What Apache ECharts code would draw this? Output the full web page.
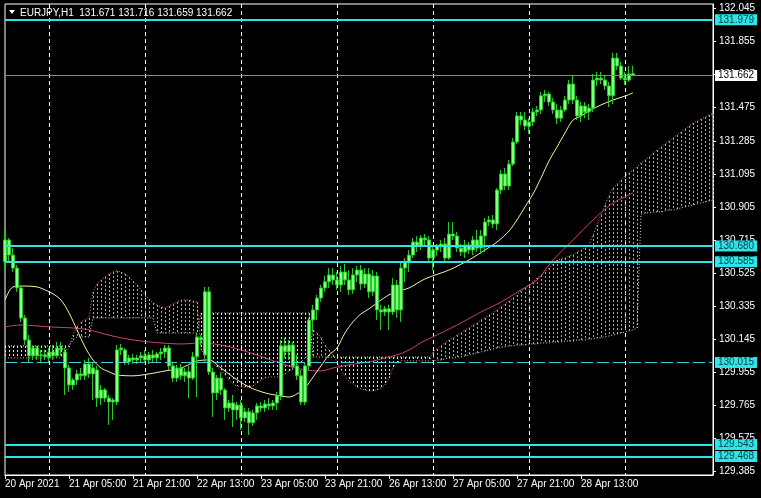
<!DOCTYPE html>
<html><head><meta charset="utf-8">
<script src="https://cdn.jsdelivr.net/npm/echarts@6/dist/echarts.min.js"></script>
<style>html,body{margin:0;padding:0;background:#000;}#c{width:761px;height:498px;}</style>
</head><body><div id="c"></div>
<script>
const symbolTitle = 'EURJPY,H1  131.671 131.716 131.659 131.662';
const tickLabels = ['20 Apr 2021','21 Apr 05:00','21 Apr 21:00','22 Apr 13:00','23 Apr 05:00','23 Apr 21:00','26 Apr 13:00','27 Apr 05:00','27 Apr 21:00','28 Apr 13:00'];
const tickIdx = [0,16,32,48,64,80,96,112,128,144];
const dayLines = [11,35,59,83,107,131,155];
const priceTicks = [129.385,129.575,129.765,129.955,130.145,130.335,130.525,130.715,130.905,131.095,131.285,131.475,131.665,131.855,132.045];
const levels = [131.979,130.680,130.585,129.543,129.468];
const dashedLevel = 130.015;
const bidPrice = 131.662;
const barCount = 178;

// [open, close, low, high]
const candles = [
[130.589,130.715,130.553,130.772],[130.715,130.628,130.589,130.726],[130.628,130.553,130.531,130.668],[130.553,130.439,130.417,130.571],
[130.439,130.266,130.244,130.456],[130.266,130.140,130.111,130.284],[130.140,130.049,130.014,130.169],[130.049,130.094,130.025,130.111],
[130.094,130.049,130.025,130.106],[130.049,130.054,130.014,130.083],[130.054,130.043,130.025,130.083],[130.043,130.071,130.014,130.094],
[130.071,130.049,130.025,130.111],[130.049,130.094,130.037,130.129],[130.094,130.083,130.049,130.129],[130.071,129.979,129.824,130.094],
[129.979,129.881,129.842,129.997],[129.881,129.910,129.853,129.921],[129.910,129.945,129.881,129.968],[129.945,129.934,129.910,129.979],
[129.934,130.002,129.910,130.025],[130.002,129.945,129.921,130.037],[129.945,129.979,129.795,130.014],[129.968,129.806,129.755,129.991],
[129.806,129.853,129.766,129.881],[129.853,129.806,129.784,129.864],[129.806,129.784,129.652,129.824],[129.784,129.795,129.681,129.806],
[129.784,130.083,129.766,130.111],[130.083,130.094,130.054,130.117],[130.083,130.014,129.997,130.094],[130.014,130.037,129.997,130.054],
[130.037,130.025,130.002,130.060],[130.025,130.037,130.002,130.054],[130.037,130.049,130.008,130.071],[130.049,130.025,130.014,130.083],
[130.025,130.054,130.002,130.071],[130.054,130.037,130.014,130.083],[130.037,130.060,130.014,130.071],[130.060,130.071,130.025,130.094],
[130.071,130.094,130.037,130.111],[130.094,129.991,129.968,130.111],[129.991,129.921,129.899,130.014],[129.921,129.979,129.899,129.997],
[129.979,129.934,129.910,130.002],[129.934,129.957,129.899,129.979],[129.957,129.921,129.806,129.991],[129.921,130.043,129.910,130.071],
[130.043,130.157,129.812,130.181],[130.140,130.152,130.111,130.169],[130.054,130.417,130.014,130.445],[130.417,129.956,129.939,130.445],
[129.956,129.836,129.698,129.979],[129.836,129.921,129.795,129.939],[129.921,129.853,129.824,129.956],[129.853,129.749,129.681,129.864],
[129.749,129.778,129.727,129.795],[129.778,129.738,129.640,129.824],[129.738,129.766,129.681,129.784],[129.766,129.692,129.623,129.795],
[129.692,129.727,129.669,129.749],[129.727,129.664,129.594,129.749],[129.664,129.721,129.646,129.738],[129.721,129.761,129.681,129.778],
[129.761,129.749,129.727,129.784],[129.749,129.772,129.727,129.795],[129.772,129.761,129.738,129.806],[129.761,129.778,129.738,129.795],
[129.778,129.818,129.738,129.841],[129.818,130.106,129.795,130.140],[130.106,130.072,130.037,130.152],[130.072,130.111,130.025,130.140],
[130.111,129.991,129.968,130.129],[129.991,129.934,129.910,130.054],[129.934,129.784,129.766,129.968],[129.784,129.991,129.766,130.014],
[129.991,130.255,129.968,130.267],[130.255,130.313,130.187,130.342],[130.313,130.381,130.255,130.399],[130.381,130.439,130.359,130.456],
[130.439,130.474,130.417,130.508],[130.474,130.514,130.439,130.553],[130.514,130.485,130.456,130.553],[130.485,130.456,130.428,130.531],
[130.456,130.531,130.417,130.565],[130.531,130.485,130.456,130.577],[130.485,130.428,130.399,130.542],[130.428,130.514,130.405,130.553],
[130.514,130.542,130.474,130.565],[130.542,130.462,130.428,130.571],[130.462,130.519,130.439,130.553],[130.519,130.417,130.381,130.553],
[130.417,130.508,130.393,130.542],[130.508,130.313,130.255,130.531],[130.313,130.301,130.198,130.342],[130.301,130.319,130.278,130.336],
[130.319,130.301,130.198,130.342],[130.301,130.456,130.284,130.497],[130.456,130.313,130.267,130.485],[130.313,130.553,130.244,130.589],
[130.553,130.589,130.474,130.611],[130.589,130.628,130.531,130.657],[130.628,130.703,130.611,130.726],[130.703,130.680,130.646,130.737],
[130.680,130.726,130.657,130.743],[130.726,130.715,130.686,130.749],[130.715,130.611,130.589,130.737],[130.611,130.657,130.542,130.686],
[130.657,130.680,130.623,130.692],[130.680,130.692,130.646,130.715],[130.692,130.611,130.589,130.726],[130.611,130.749,130.600,130.818],
[130.749,130.737,130.715,130.818],[130.737,130.668,130.646,130.761],[130.668,130.646,130.623,130.692],[130.646,130.686,130.611,130.715],
[130.686,130.657,130.634,130.703],[130.657,130.715,130.628,130.737],[130.715,130.668,130.646,130.772],[130.668,130.738,130.634,130.772],
[130.738,130.818,130.646,130.841],[130.818,130.830,130.795,130.853],[130.830,130.807,130.784,130.858],[130.807,131.002,130.772,131.013],
[131.002,131.094,130.979,131.117],[131.094,131.025,131.002,131.128],[131.025,131.151,131.002,131.174],[131.151,131.278,131.140,131.300],
[131.278,131.428,131.266,131.451],[131.428,131.404,131.375,131.451],[131.404,131.370,131.347,131.451],[131.370,131.393,131.324,131.415],
[131.393,131.451,131.370,131.473],[131.451,131.462,131.428,131.485],[131.462,131.543,131.439,131.566],[131.543,131.554,131.508,131.577],
[131.554,131.508,131.485,131.566],[131.508,131.462,131.439,131.530],[131.462,131.415,131.381,131.496],[131.415,131.462,131.393,131.485],
[131.462,131.519,131.451,131.543],[131.519,131.611,131.496,131.634],[131.611,131.519,131.496,131.658],[131.519,131.428,131.404,131.543],
[131.428,131.485,131.393,131.508],[131.485,131.451,131.415,131.508],[131.451,131.473,131.404,131.496],[131.473,131.634,131.451,131.669],
[131.634,131.645,131.600,131.681],[131.645,131.634,131.611,131.681],[131.634,131.600,131.577,131.658],[131.600,131.543,131.479,131.623],
[131.543,131.760,131.496,131.790],[131.760,131.715,131.692,131.790],[131.715,131.645,131.634,131.738],[131.645,131.634,131.605,131.681],
[131.634,131.669,131.623,131.715],[131.671,131.662,131.659,131.716]
];

// moving averages: [bar index, price]
const maFast = [[0,130.370],[2,130.445],[5,130.450],[8,130.445],[10,130.428],[12,130.405],[14,130.370],[16,130.296],[18,130.198],[20,130.100],[22,130.025],[24,129.979],[26,129.957],[28,129.939],[32,129.934],[36,129.945],[40,129.962],[44,129.979],[48,130.019],[51,130.025],[54,129.979],[57,129.927],[61,129.870],[65,129.836],[69,129.818],[71,129.812],[73,129.830],[75,129.864],[77,129.927],[79,129.991],[81,130.054],[83,130.094],[85,130.181],[87,130.244],[89,130.290],[91,130.319],[94,130.370],[97,130.411],[101,130.439],[105,130.491],[111,130.542],[116,130.600],[120,130.657],[123,130.703],[126,130.766],[128,130.830],[130,130.905],[132,130.979],[134,131.071],[136,131.169],[138,131.249],[140,131.330],[142,131.404],[144,131.427],[146,131.456],[149,131.491],[152,131.519],[155,131.542],[157,131.560]];
const maSlow = [[0,130.215],[4,130.226],[11,130.215],[17,130.209],[21,130.198],[24,130.180],[28,130.157],[34,130.134],[39,130.123],[44,130.117],[49,130.123],[54,130.111],[59,130.083],[65,130.037],[70,129.997],[75,129.968],[79,129.962],[82,129.979],[86,129.997],[91,130.014],[95,130.037],[99,130.062],[102,130.095],[104,130.125],[109,130.180],[114,130.238],[119,130.301],[124,130.358],[129,130.428],[133,130.485],[137,130.600],[142,130.715],[147,130.830],[152,130.927],[157,130.985]];

// Ichimoku Senkou spans (incl. bars shifted forward)
const spanA = [
130.037,130.037,130.037,130.037,130.037,130.037,130.037,130.037,130.037,130.037,
130.037,130.037,130.037,130.037,130.037,130.071,130.100,130.169,130.221,130.244,
130.255,130.267,130.417,130.462,130.485,130.502,130.519,130.531,130.537,130.531,
130.519,130.502,130.479,130.456,130.428,130.399,130.376,130.353,130.341,130.330,
130.324,130.336,130.347,130.359,130.370,130.370,130.370,130.364,130.359,130.083,
130.054,130.025,130.002,129.985,129.968,129.939,129.910,129.887,129.876,129.870,
129.870,129.870,129.876,129.893,129.910,129.921,129.927,129.927,129.927,129.933,
129.945,129.962,129.979,129.997,130.014,130.037,130.054,130.198,130.180,130.152,
130.111,130.083,130.054,130.014,129.968,129.927,129.904,129.887,129.870,129.858,
129.853,129.847,129.847,129.853,129.864,129.881,129.921,129.979,130.014,130.020,
130.020,130.020,130.020,130.020,130.020,130.020,130.020,130.072,130.088,130.106,
130.123,130.140,130.152,130.169,130.181,130.198,130.209,130.226,130.238,130.255,
130.267,130.284,130.296,130.313,130.330,130.347,130.364,130.382,130.399,130.422,
130.439,130.456,130.474,130.496,130.514,130.531,130.554,130.577,130.600,130.605,
130.611,130.623,130.628,130.646,130.657,130.669,130.686,130.743,130.801,130.859,
130.916,130.968,131.013,131.036,131.059,131.083,131.100,131.117,131.134,131.157,
131.174,131.192,131.215,131.232,131.249,131.266,131.284,131.301,131.318,131.335,
131.352,131.370,131.387,131.398,131.410,131.421,131.433,131.439];
const spanB = [
130.106,130.106,130.106,130.106,130.106,130.106,130.106,130.106,130.106,130.106,
130.106,130.106,130.106,130.106,130.106,130.106,130.106,130.140,130.158,130.158,
130.158,130.158,130.267,130.267,130.267,130.267,130.267,130.267,130.267,130.267,
130.267,130.267,130.267,130.267,130.267,130.267,130.267,130.267,130.180,130.180,
130.180,130.180,130.180,130.180,130.180,130.180,130.180,130.180,130.180,130.295,
130.295,130.295,130.295,130.295,130.295,130.295,130.295,130.295,130.295,130.295,
130.295,130.295,130.295,130.295,130.295,130.295,130.295,130.295,130.295,130.295,
130.295,130.295,130.295,130.295,130.295,130.295,130.295,130.042,130.042,130.042,
130.042,130.042,130.042,130.042,130.042,130.042,130.042,130.042,130.042,130.042,
130.042,130.042,130.042,130.042,130.042,130.042,130.042,130.042,130.042,130.042,
130.042,130.042,130.042,130.042,130.042,130.042,130.042,130.019,130.025,130.025,
130.031,130.037,130.037,130.043,130.043,130.048,130.054,130.060,130.066,130.071,
130.077,130.083,130.088,130.094,130.100,130.100,130.106,130.106,130.111,130.111,
130.111,130.117,130.117,130.117,130.123,130.123,130.123,130.129,130.129,130.129,
130.134,130.134,130.134,130.140,130.140,130.140,130.146,130.146,130.152,130.152,
130.158,130.163,130.169,130.175,130.181,130.186,130.192,130.198,130.209,130.864,
130.870,130.870,130.876,130.876,130.876,130.882,130.887,130.887,130.893,130.899,
130.905,130.910,130.916,130.922,130.927,130.933,130.939,130.945];

const FONT = '"Liberation Sans", Arial, sans-serif';
const CYAN = '#2EE4E8';
const PINK = '#EE8E7C';
const THISTLE = '#EADDEA';
const CANDLE_FILL = '#86FF86';
const CANDLE_EDGE = '#26C826';

const cats = [];
for (let i = 0; i < barCount; i++) cats.push(String(i));
const cloudData = spanA.map((a, i) => [i, a, spanB[i]]);

function renderHatch(params, api) {
  const i = api.value(0), a = api.value(1), b = api.value(2);
  const pa = api.coord([i, a]), pb = api.coord([i, b]);
  const x = Math.round(pa[0]) + 0.5;
  const y1 = Math.round(Math.min(pa[1], pb[1])), y2 = Math.round(Math.max(pa[1], pb[1]));
  return {type: 'line', silent: true,
    shape: {x1: x, y1: y1, x2: x, y2: y2},
    style: {stroke: a >= b ? PINK : THISTLE, lineWidth: 1, lineDash: [2, 2]}};
}

function boxLabel(v, bg, fg) {
  return {show: true, position: 'end', distance: 2, formatter: v.toFixed(3),
    backgroundColor: bg, color: fg, padding: [1, 3, 0, 3], lineHeight: 10,
    fontSize: 10, fontFamily: FONT};
}

const markData = levels.map(v => ({yAxis: v,
  lineStyle: {color: CYAN, width: 2, type: 'solid'}, label: boxLabel(v, CYAN, '#063c3c')}));
markData.push({yAxis: dashedLevel, lineStyle: {color: '#3CCFD6', width: 1, type: [12, 4]},
  label: boxLabel(dashedLevel, CYAN, '#063c3c')});
markData.push({yAxis: bidPrice, lineStyle: {color: '#8A8A8A', width: 1, type: 'solid'},
  label: boxLabel(bidPrice, '#FFFFFF', '#000000')});

const chart = echarts.init(document.getElementById('c'), null, {renderer: 'canvas'});
chart.setOption({
  animation: false,
  backgroundColor: '#000000',
  grid: {left: 5, right: 48, top: 4, bottom: 23, show: true, borderColor: '#ffffff', borderWidth: 1},
  xAxis: {
    type: 'category', data: cats, boundaryGap: false,
    axisLine: {lineStyle: {color: '#ffffff', width: 1}},
    axisTick: {show: true, length: 4, interval: (idx) => tickIdx.includes(idx), lineStyle: {color: '#ffffff'}},
    axisLabel: {interval: (idx) => tickIdx.includes(idx), color: '#ffffff', fontSize: 10, fontFamily: FONT,
      align: 'left', margin: 4, formatter: (val, idx) => {
        const k = tickIdx.indexOf(Number(val));
        return k >= 0 ? tickLabels[k] : '';
      }},
    splitLine: {show: true, interval: (idx) => dayLines.includes(idx), lineStyle: {color: '#ffffff', width: 1, type: [4, 3]}}
  },
  yAxis: {
    type: 'value', position: 'right', min: 129.364, max: 132.071,
    axisLine: {show: true, lineStyle: {color: '#ffffff'}},
    axisTick: {show: true, length: 3, customValues: priceTicks, lineStyle: {color: '#ffffff'}},
    axisLabel: {customValues: priceTicks, color: '#ffffff', fontSize: 10, fontFamily: FONT, margin: 6,
      formatter: (v) => v.toFixed(3)},
    splitLine: {show: false}
  },
  graphic: [
    {type: 'polygon', shape: {points: [[9, 10], [15, 10], [12, 14]]}, style: {fill: '#ffffff'}, z: 100},
    {type: 'text', x: 20, y: 13, z: 100, style: {text: symbolTitle, fill: '#ffffff', font: '10px ' + FONT, verticalAlign: 'middle'}}
  ],
  series: [
    {type: 'custom', name: 'cloud', renderItem: renderHatch, data: cloudData, z: 1, silent: true},
    {type: 'line', name: 'spanA', data: spanA, showSymbol: false, z: 1, silent: true,
      lineStyle: {color: PINK, width: 1, type: [1, 2]}},
    {type: 'line', name: 'spanB', data: spanB, showSymbol: false, z: 1, silent: true,
      lineStyle: {color: THISTLE, width: 1, type: [1, 2]}},
    {type: 'line', name: 'maSlow', data: maSlow, showSymbol: false, smooth: 0.3, z: 2, silent: true,
      lineStyle: {color: '#C8426E', width: 1}},
    {type: 'line', name: 'maFast', data: maFast, showSymbol: false, smooth: 0.3, z: 2, silent: true,
      lineStyle: {color: '#F4F0A8', width: 1}},
    {type: 'candlestick', name: 'EURJPY', data: candles, barWidth: 3, z: 3,
      itemStyle: {color: CANDLE_FILL, color0: CANDLE_FILL, borderColor: CANDLE_EDGE, borderColor0: CANDLE_EDGE, borderWidth: 1}},
    {type: 'line', name: 'levels', data: [], z: 4, silent: true,
      markLine: {symbol: ['none', 'none'], silent: true, animation: false, data: markData}}
  ]
});
</script>
</body></html>
